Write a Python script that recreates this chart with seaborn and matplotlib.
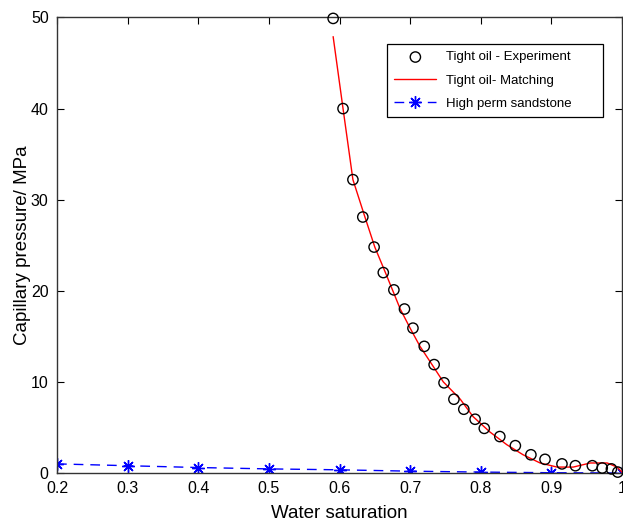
import matplotlib
matplotlib.use("Agg")
import matplotlib.pyplot as plt
import seaborn as sns
import pandas as pd

# Tight oil experiment (open circles)
exp_sw = [0.591, 0.605, 0.619, 0.633, 0.649, 0.662, 0.677, 0.692, 0.704, 0.720,
          0.734, 0.748, 0.762, 0.776, 0.792, 0.805, 0.827, 0.849, 0.871, 0.891,
          0.915, 0.934, 0.958, 0.972, 0.985, 0.994]
exp_pc = [49.9, 40.0, 32.2, 28.1, 24.8, 22.0, 20.1, 18.0, 15.9, 13.9,
          11.9, 9.9, 8.1, 7.0, 5.9, 4.9, 4.0, 3.0, 2.0, 1.5,
          1.0, 0.8, 0.8, 0.55, 0.45, 0.1]

# Tight oil matching curve (red line)
fit_sw = [0.591, 0.605, 0.619, 0.636, 0.650, 0.665, 0.675, 0.686, 0.700, 0.714,
          0.731, 0.747, 0.771, 0.789, 0.813, 0.837, 0.860, 0.884, 0.908, 0.931,
          0.955, 0.979, 0.993, 1.0]
fit_pc = [47.9, 40.0, 32.2, 28.1, 24.8, 22.0, 20.1, 18.0, 15.9, 13.9,
          11.9, 10.0, 8.1, 6.2, 4.5, 3.1, 2.0, 1.1, 0.65, 0.65,
          1.1, 1.1, 0.65, 0.1]

# High perm sandstone (blue dashed with asterisks)
hp_sw = [0.2, 0.3, 0.4, 0.5, 0.6, 0.7, 0.8, 0.9, 1.0]
hp_pc = [1.0, 0.8, 0.6, 0.45, 0.35, 0.2, 0.1, 0.03, 0.0]

xticks = [0.2, 0.3, 0.4, 0.5, 0.6, 0.7, 0.8, 0.9, 1.0]
xticklabels = ["0.2", "0.3", "0.4", "0.5", "0.6", "0.7", "0.8", "0.9", "1"]
yticks = [0, 10, 20, 30, 40, 50]

sns.set_style("ticks")
plt.rcParams["font.family"] = ["Liberation Sans", "DejaVu Sans"]

fig = plt.figure(figsize=(6.23, 5.23), dpi=100)
ax = fig.add_axes([57 / 623, 50 / 523, 565 / 623, 455.5 / 523])

df_exp = pd.DataFrame({"sw": exp_sw, "pc": exp_pc})
df_fit = pd.DataFrame({"sw": fit_sw, "pc": fit_pc})
df_hp = pd.DataFrame({"sw": hp_sw, "pc": hp_pc})

sns.lineplot(data=df_hp, x="sw", y="pc", ax=ax, color="#0000ff", lw=1.0,
             linestyle=(0, (7, 5)), marker=(8, 2, 0), markersize=9,
             markeredgecolor="#0000ff", markeredgewidth=1.0,
             label="High perm sandstone", zorder=2, sort=False)
sns.lineplot(data=df_fit, x="sw", y="pc", ax=ax, color="#ff0000", lw=1.0,
             label="Tight oil- Matching", zorder=3, sort=False)
sns.scatterplot(data=df_exp, x="sw", y="pc", ax=ax, marker="o", s=55,
                facecolor="none", edgecolor="black", linewidth=1.0,
                label="Tight oil - Experiment", zorder=4, clip_on=False)

ax.set_xlim(0.2, 1.0)
ax.set_ylim(0, 50)
ax.set_xticks(xticks)
ax.set_xticklabels(xticklabels)
ax.set_yticks(yticks)
ax.tick_params(direction="in", length=5, width=0.8, top=True, right=True,
               labelsize=11.5, colors="black", labelcolor="black", pad=6)
for s in ax.spines.values():
    s.set_visible(True)
    s.set_color("#333333")
    s.set_linewidth(1.0)

ax.set_xlabel("Water saturation", fontsize=13.5, labelpad=6, color="black")
ax.set_ylabel("Capillary pressure/ MPa", fontsize=13.5, labelpad=0, color="black")

handles, labels = ax.get_legend_handles_labels()
order = [labels.index("Tight oil - Experiment"), labels.index("Tight oil- Matching"),
         labels.index("High perm sandstone")]
x0 = (387 - 57) / 565
x1 = (603 - 57) / 565
ytop = (473 - 44) / 455.5
ybot = (473 - 117) / 455.5
leg = ax.legend([handles[i] for i in order], [labels[i] for i in order],
                loc="upper left", bbox_to_anchor=(x0, ybot, x1 - x0, ytop - ybot),
                mode="expand",
                fontsize=9.5, frameon=True, fancybox=False, framealpha=1,
                edgecolor="black", borderpad=0.55, labelspacing=0.83,
                handlelength=3.2, handletextpad=0.75, borderaxespad=0)
leg.get_frame().set_linewidth(0.9)
for t in leg.get_texts():
    t.set_color("black")

fig.savefig("out.png", dpi=100)
